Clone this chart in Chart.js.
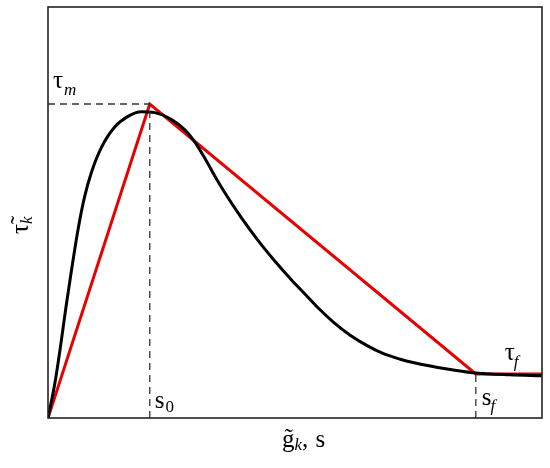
<!DOCTYPE html>
<html>
<head>
<meta charset="utf-8">
<script src="https://cdn.jsdelivr.net/npm/chart.js@4/dist/chart.umd.min.js"></script>
<style>
html,body{margin:0;padding:0;background:#fff;}
#wrap{width:550px;height:468px;}
</style>
</head>
<body>
<div id="wrap"><canvas id="c" width="550" height="468"></canvas></div>
<script>
// Measured (black) curve: g~k vs tau~k
const curveX = [0, 1.4, 2.6, 3.7, 4.7, 6.1, 7.4, 8.8, 10.8, 13.5, 16.2, 18.9, 21.6, 25.0, 27.7, 29.7, 31.7, 33.7, 35.8, 39.1, 42.5, 45.9, 49.3, 52.3, 54.5, 57.7, 61.1, 64.6, 67.8, 71.3, 73.9, 80.8, 86.0, 93.5, 100];
const curveY = [0, 8.5, 18.0, 27.5, 35.5, 46.0, 53.8, 59.8, 65.8, 70.8, 73.4, 74.5, 74.3, 72.6, 70.1, 67.2, 63.3, 59.0, 54.8, 48.8, 43.2, 38.2, 33.6, 29.8, 27.0, 23.4, 20.2, 17.6, 15.7, 14.3, 13.5, 11.9, 11.0, 10.5, 10.3];
// Trilinear (red) model
const modelX = [0, 20.6, 86.6, 100];
const modelY = [0, 76.4, 10.7, 10.7];
// Key values
const s0 = 20.6, sf = 86.6, tauM = 76.4, tauF = 10.7;

const pts = (xs, ys) => xs.map((x, i) => ({x, y: ys[i]}));

const textPlugin = {
  id: 'texts',
  afterDatasetsDraw(chart) {
    const ctx = chart.ctx, a = chart.chartArea;
    const X = v => chart.scales.x.getPixelForValue(v);
    const Y = v => chart.scales.y.getPixelForValue(v);
    ctx.save();
    // frame
    ctx.strokeStyle = '#222';
    ctx.lineWidth = 1.6;
    ctx.strokeRect(a.left, a.top, a.right - a.left, a.bottom - a.top);
    ctx.fillStyle = '#000';
    ctx.textBaseline = 'alphabetic';
    const main = '25px "Liberation Serif"';
    const sub = 'italic 17px "Liberation Serif"';
    const subR = '17px "Liberation Serif"';
    function put(txt, font, x, y) { ctx.font = font; ctx.fillText(txt, x, y); return x + ctx.measureText(txt).width; }
    // tau_m
    let x = put('\u03C4', main, a.left + 5, Y(tauM) - 16);
    put('m', sub, x + 1, Y(tauM) - 9);
    // s0
    x = put('s', main, X(s0) + 5, a.bottom - 10);
    put('0', subR, x + 1, a.bottom - 6);
    // sf
    x = put('s', main, X(sf) + 6, a.bottom - 13);
    put('f', sub, x - 1, a.bottom - 7);
    // tau_f
    x = put('\u03C4', main, X(sf) + 29, Y(tauF) - 14);
    put('f', sub, x - 1, Y(tauF) - 7);
    // x axis title
    x = put('g\u0303', main, 282, a.bottom + 29);
    x = put('k', sub, x, a.bottom + 32);
    x = put(',', main, x, a.bottom + 29);
    put(' s', main, x + 1, a.bottom + 29);
    // y axis title (rotated)
    ctx.translate(28, 234);
    ctx.rotate(-Math.PI / 2);
    x = put('\u03C4\u0303', main, 0, 0);
    put('k', sub, x, 4);
    ctx.restore();
  }
};

new Chart(document.getElementById('c'), {
  type: 'line',
  data: {
    datasets: [
      { data: [{x: 0, y: tauM}, {x: s0, y: tauM}], borderColor: '#333', borderWidth: 1.3, borderDash: [7, 5], pointRadius: 0, tension: 0 },
      { data: [{x: s0, y: 0}, {x: s0, y: tauM}], borderColor: '#333', borderWidth: 1.3, borderDash: [7, 5], pointRadius: 0, tension: 0 },
      { data: [{x: sf, y: 0}, {x: sf, y: tauF}], borderColor: '#333', borderWidth: 1.3, borderDash: [7, 5], pointRadius: 0, tension: 0 },
      { data: pts(curveX, curveY), borderColor: '#000', borderWidth: 3, pointRadius: 0, cubicInterpolationMode: 'monotone' },
      { data: pts(modelX, modelY), borderColor: '#e60000', borderWidth: 3, pointRadius: 0, tension: 0 }
    ]
  },
  options: {
    responsive: false,
    animation: false,
    events: [],
    layout: { padding: { left: 48, top: 7, right: 8, bottom: 50 } },
    plugins: { legend: { display: false }, tooltip: { enabled: false } },
    scales: {
      x: { type: 'linear', min: 0, max: 100, display: false },
      y: { type: 'linear', min: 0, max: 100, display: false }
    }
  },
  plugins: [textPlugin]
});
</script>
</body>
</html>
